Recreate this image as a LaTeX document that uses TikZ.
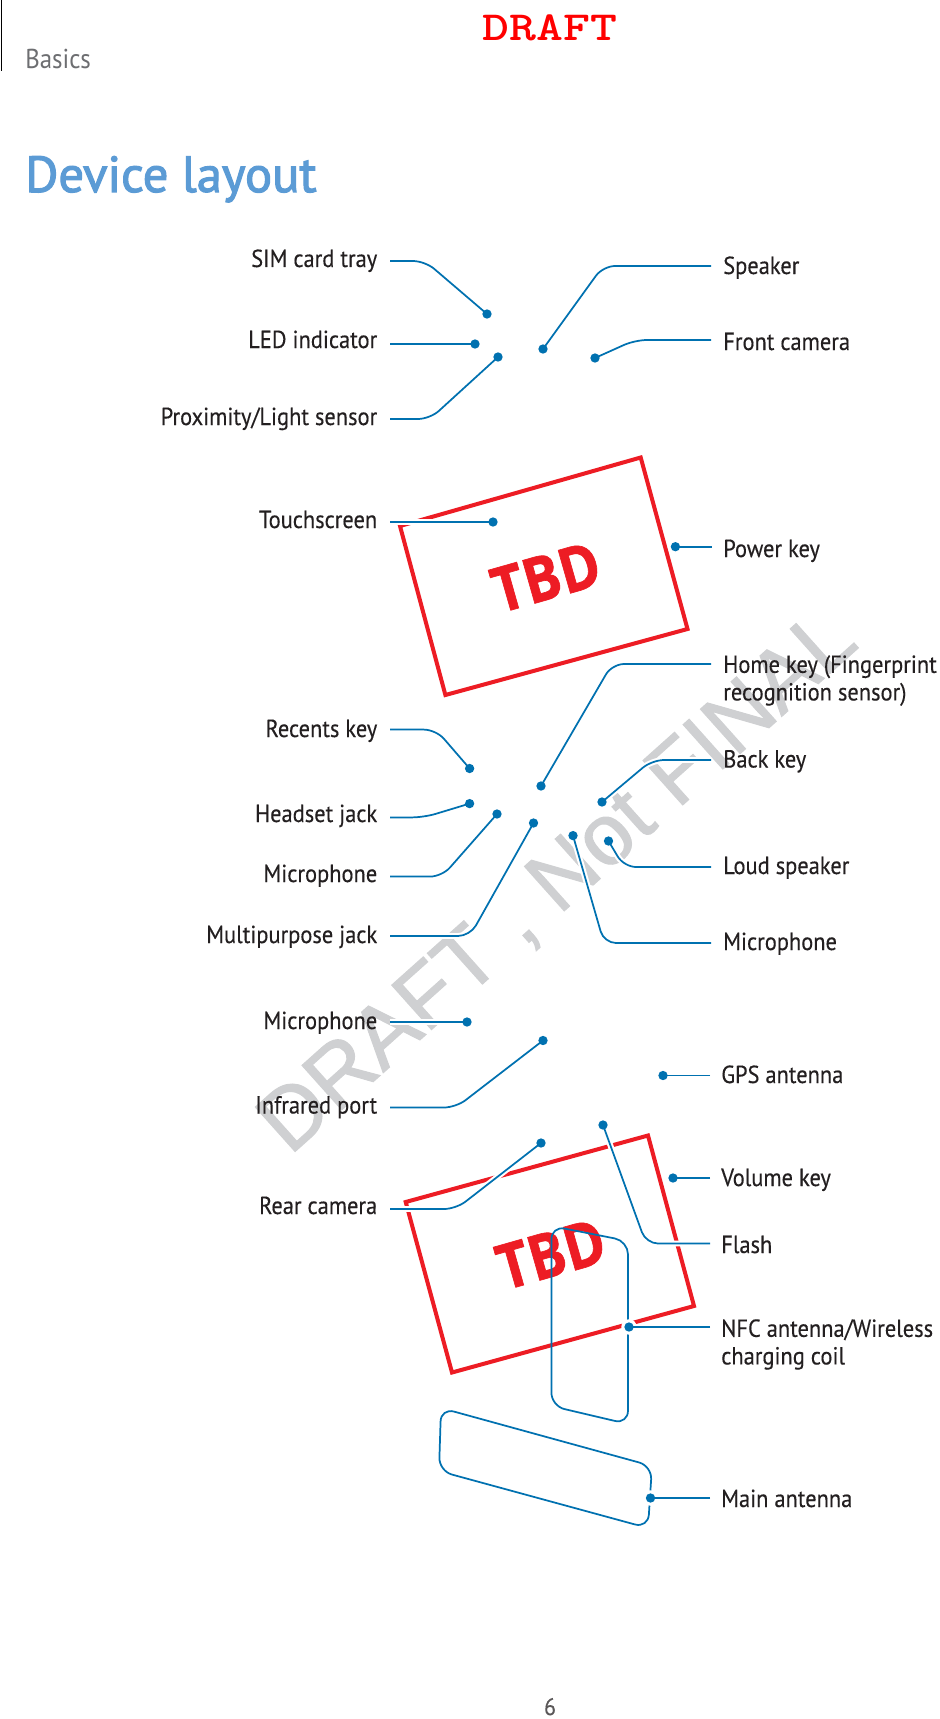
\documentclass[tikz,border=0pt]{standalone}
\usepackage{fontspec}
\setmainfont[FakeStretch=0.91,FakeBold=0.25]{PT Sans}
\newfontfamily\titlefont[FakeStretch=1.0,FakeBold=2.2]{PT Sans}
\newfontfamily\basicsfont[FakeStretch=0.91]{PT Sans}
\newfontfamily\tbdfont[FakeStretch=0.88,FakeBold=1]{Open Sans}
\newfontfamily\markfont[FakeBold=1.2]{Liberation Sans}
\pgfdeclarelayer{under}
\pgfdeclarelayer{leads}
\pgfsetlayers{under,leads,main}
\definecolor{leadblue}{HTML}{0071B0}
\definecolor{inkblack}{HTML}{231F20}
\definecolor{boxred}{HTML}{ED1C24}
\definecolor{titleblue}{HTML}{5B9BD5}
\definecolor{headgray}{HTML}{6D6E71}
\definecolor{markgray}{HTML}{CFD0D2}
\tikzset{
  x=0.75pt,y=-0.75pt,
  dotnode/.style={circle,fill=leadblue,inner sep=0pt,minimum size=7pt},
  lab/.style={text=inkblack,font=\fontsize{18.5}{20.7}\selectfont,inner sep=0pt},
  labl/.style={lab,anchor=base east},
  labr/.style={lab,anchor=base west},
  lead/.style={draw=leadblue,line width=1.3pt,rounded corners=9pt,
     preaction={draw=white,line width=4.4pt,rounded corners=9pt}},
  coil/.style={draw=leadblue,line width=1.3pt,rounded corners=10pt},
  redbox/.style={draw=boxred,line width=3pt,miter limit=10},
  tbdtext/.style={text=boxred,rotate=15.9,font=\fontsize{47}{47}\tbdfont\bfseries\selectfont,inner sep=0pt},
}
\newcommand{\dotat}[2]{\node[dotnode] (#1) at (#2) {};}
\newcommand{\leadline}[3]{%
  \begin{pgfonlayer}{leads}
    \fill[white] (#3) circle (5.8pt);
    \draw[lead] #1 #2 (#3.center);
  \end{pgfonlayer}}
\begin{document}
\begin{tikzpicture}
\useasboundingbox (0,0) rectangle (939,1719);

\begin{pgfonlayer}{under}
\fill[white] (0,0) rectangle (939,1719);
\node[text=markgray,rotate=41.8,font=\fontsize{65}{65}\markfont\selectfont,inner sep=0pt] (wm) at (559,883) {DRAFT , Not FINAL};
\draw[redbox] (400,526) -- (640.7,457.5) -- (687.5,629) -- (445.4,695) -- cycle;
\draw[redbox] (405.7,1202) -- (648,1135.5) -- (694,1306) -- (452,1372.5) -- cycle;
\node[tbdtext] (tbdA) at (546,577) {TBD};
\node[tbdtext] (tbdB) at (551,1254) {TBD};
\draw[coil] (551.4,1226) -- (628,1241) -- (628,1424) -- (551.4,1406) -- cycle;
\draw[coil] (441,1408) -- (652,1466) -- (648,1528) -- (439,1471) -- cycle;
\end{pgfonlayer}

\draw[black,line width=0.75pt] (1,0) -- (1,71);
\node[text=headgray,anchor=base west,inner sep=0pt,font=\fontsize{20.5}{22}\basicsfont\selectfont] (basics) at (25,69) {Basics};
\node[text=red,anchor=base,inner sep=0pt,xscale=1.24,transform shape,font=\fontsize{31}{31}\ttfamily\bfseries\selectfont] (draft) at (550,41) {DRAFT};
\node[text=titleblue,anchor=base west,inner sep=0pt,font=\fontsize{38}{44}\titlefont\selectfont] (title) at (25,192) {Device layout};
\node[text=inkblack!75,anchor=base,inner sep=0pt,font=\fontsize{18}{22}\selectfont] (pg) at (550,1715) {6};

\node[labl] (lSIM) at (377.5,267) {SIM card tray};
\node[labl] (lLED) at (377.5,348) {LED indicator};
\node[labl] (lPRX) at (377.5,425) {Proximity/Light sensor};
\node[labl] (lTCH) at (377.5,528) {Touchscreen};
\node[labl] (lREC) at (377.5,737) {Recents key};
\node[labl] (lHSJ) at (377.5,822) {Headset jack};
\node[labl] (lMCA) at (377.5,882) {Microphone};
\node[labl] (lMPJ) at (377.5,943) {Multipurpose jack};
\node[labl] (lMCC) at (377.5,1029) {Microphone};
\node[labl] (lIRP) at (377.5,1113.5) {Infrared port};
\node[labl] (lRCM) at (377.5,1214) {Rear camera};
\node[labr] (rSPK) at (723,274) {Speaker};
\node[labr] (rFCM) at (723,350) {Front camera};
\node[labr] (rPWR) at (723,557) {Power key};
\node[labr,align=left,anchor=north west] (rHOM) at (723,655) {Home key (Fingerprint\\recognition sensor)};
\node[labr] (rBCK) at (723,767.5) {Back key};
\node[labr] (rLSP) at (723,874) {Loud speaker};
\node[labr] (rMCB) at (723,950) {Microphone};
\node[labr] (rGPS) at (721,1083) {GPS antenna};
\node[labr] (rVOL) at (721,1186) {Volume key};
\node[labr] (rFLS) at (721,1253) {Flash};
\node[labr,align=left,anchor=north west] (rNFC) at (721,1319) {NFC antenna/Wireless\\charging coil};
\node[labr] (rMAN) at (721,1507) {Main antenna};

\dotat{dSIM}{487,314}
\dotat{dLED}{475,344}
\dotat{dPRX}{498,357}
\dotat{dSPK}{543,349}
\dotat{dFCM}{595,358}
\dotat{dTCH}{493,522}
\dotat{dPWR}{675.4,546.7}
\dotat{dHOM}{541,786}
\dotat{dREC}{469.6,768.5}
\dotat{dHSJ}{469.6,803.6}
\dotat{dMCA}{497,814}
\dotat{dMPJ}{533.5,823}
\dotat{dBCK}{602,802}
\dotat{dLSP}{608.5,841}
\dotat{dMCB}{573,835.6}
\dotat{dMCC}{467,1022}
\dotat{dIRP}{543,1040.5}
\dotat{dGPS}{663,1075.5}
\dotat{dRCM}{541,1143}
\dotat{dFLS}{603,1125}
\dotat{dVOL}{673,1178}
\dotat{dNFC}{629,1327}
\dotat{dMAN}{650.5,1498}

\leadline{(390,261)}{-- (425,261) --}{dSIM}
\leadline{(390,344)}{--}{dLED}
\leadline{(390,419)}{-- (430,419) --}{dPRX}
\leadline{(711,266)}{-- (603,266) --}{dSPK}
\leadline{(711,340)}{-- (635,340) --}{dFCM}
\leadline{(390,522)}{--}{dTCH}
\leadline{(711.6,546.7)}{--}{dPWR}
\leadline{(711,664)}{-- (612,664) --}{dHOM}
\leadline{(390,729.6)}{-- (436,729.6) --}{dREC}
\leadline{(390,817.4)}{-- (424,817.4) --}{dHSJ}
\leadline{(390,876.6)}{-- (442,876.6) --}{dMCA}
\leadline{(390,936)}{-- (470,936) --}{dMPJ}
\leadline{(711,760)}{-- (652,760) --}{dBCK}
\leadline{(711,867)}{-- (624,867) --}{dLSP}
\leadline{(711,943)}{-- (604,943) --}{dMCB}
\leadline{(390,1022)}{--}{dMCC}
\begin{pgfonlayer}{leads}\draw[leadblue,line width=2.1pt] (390,1022) -- (dMCC.center);\end{pgfonlayer}
\leadline{(390,1107.5)}{-- (456,1107.5) --}{dIRP}
\leadline{(710,1075.5)}{--}{dGPS}
\leadline{(390,1209)}{-- (456,1209) --}{dRCM}
\leadline{(710,1243.5)}{-- (646,1243.5) --}{dFLS}
\leadline{(710,1178)}{--}{dVOL}
\leadline{(710,1327)}{--}{dNFC}
\leadline{(710,1498)}{--}{dMAN}
\end{tikzpicture}
\end{document}
